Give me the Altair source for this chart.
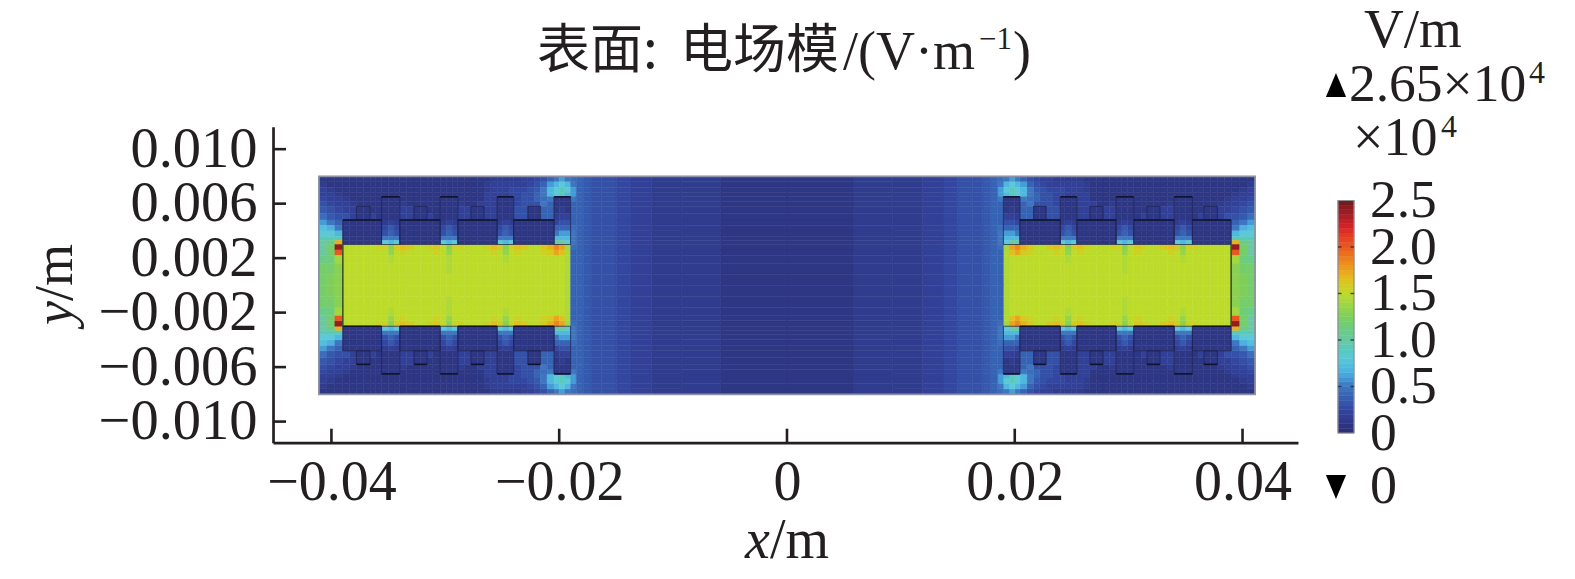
import altair as alt

# Plot frame position on the page (px), used only for text placed around the plot
ORIGIN_X, ORIGIN_Y = 273.0, 126.7
INK = "#231f20"
SERIF = "Liberation Serif"
CJK = "Noto Sans CJK SC"

x_ticks = [-0.04, -0.02, 0, 0.02, 0.04]
y_ticks = [-0.010, -0.006, -0.002, 0.002, 0.006, 0.010]

# Cell edges of the field, mm, left half, outer edge to centre line
x_edges = [-41.1, -40.4, -39.7, -39.0, -38.4, -37.8, -37.2, -36.6, -36.1, -35.6, -35.0, -34.5, -34.0,
           -33.4, -32.75, -32.2, -31.6, -31.1, -30.45, -29.9, -29.4, -28.9, -28.3, -27.75, -27.2,
           -26.6, -26.0, -25.45, -24.95, -24.4, -24.0, -23.35, -22.75, -22.2, -21.65, -21.05, -20.45,
           -20.0, -19.5, -19.0, -18.5, -17.9, -17.2, -16.3, -15.0, -13.7, -11.9, -9.3, -5.8, 0.0]
# Cell edges, mm, upper half, outer edge to centre line
y_edges = [8.0, 7.6, 7.2, 6.8, 6.5, 6.15, 5.8, 5.3, 4.8, 4.4, 4.0, 3.6, 3.3, 3.0, 2.6, 2.2, 1.6, 0.8, 0.0]

# Field modulus, in units of 1000 V/m, one row per y band
field_rows = [
    [1,1,1, 1,1,1,1,1,1, 1,1,1, 1,1,1,1,1,1, 1,1,1, 1,1,1,1,1,1.5, 1.5,1.5,1.5, 1.5,2,2,2.5,3,4, 5,6,5, 4.5,4,3.5,3,3,2.5,2,1.5,1.5,1],
    [1.5,1,1, 1,1,1,1,1,1, 1,1,1, 1,1,1,1,1,1, 1,1,1, 1,1,1,1,1.5,2, 2,2,2, 2,2,2.5,3,4,6, 7,8,7, 5,4,3.5,3,3,2.5,2,1.5,1.5,1],
    [2,1.5,1, 1,1,1,1,1,1, 1,1,1, 1,1,1,1,1,1, 1,1,1, 1,1,1,1,1.5,2, 2,2,2.5, 2.5,2.5,3,3.5,5,7, 8,9,8, 6,4,3.5,3,3,2.5,2,1.5,1.5,1],
    [2,2,1.5, 1,1,1,1,1,1, 1,1,1, 1,1,1,1,1,1, 1,1,1, 1,1,1,1,2,2, 2,2,2.5, 2.5,3,3,4,5,7, 8,9,7, 6,4,3.5,3,3,2.5,2,1.5,1.5,1],
    [2.5,2,2, 1.5,1,1,1,1,1, 1,1,1, 1,1,1,1,1,1, 1,1,1, 1,1,1,1,2,2, 1,1,1, 2.5,3,3,4,4.5,5, 1,1,1, 5,4,3.5,3,3,2.5,2,1.5,1.5,1],
    [3,2.5,2, 2,1.5,1,1,1,1, 1,1,1, 1.5,1,1,1,1,1, 1,1,1, 1.5,1,1,2,2,2, 1,1,1, 2.5,3,3,3,5,4, 1,1,1, 4,4,3.5,3,3,2.5,2,1.5,1.5,1],
    [3.5,3,2.5, 2,2,1,1,1,1, 1,1,1, 2,2,1,1,1,1, 1,1,1, 2,2,1,1,2,2, 1,1,1, 3,3,1,1,4,4, 1,1.5,1, 4,4,3.5,3,3,2.5,2,1.5,1.5,1],
    [4.5,3.5,3, 3,2,1,1,2,1, 1,1,1, 2,2,1,1,2,1, 1,1,1, 2,2,1,1,2,2, 1,1,1, 3,3,1,1,4,4, 1.5,2,2, 4,4,3.5,3,3,2.5,2,1.5,1.5,1],
    [6,5,4, 1,1,1,1,1,1, 1.5,2,1.5, 1,1,1,1,1,1, 1.5,2,1.5, 1,1,1,1,1,1, 1.5,2,1.5, 1,1,1,1,1,1, 2.5,3,3, 4,4,3.5,3,3,2.5,2,1.5,1.5,1],
    [7.5,6.5,5, 1,1,1,1,1,1, 2.5,3.5,2.5, 1,1,1,1,1,1, 2.5,3.5,2.5, 1,1,1,1,1,1, 2.5,3.5,2.5, 1,1,1,1,1,1, 4,4,4, 4.5,4,3.5,3,3,2.5,2,1.5,1.5,1],
    [8,8,7, 1,1,1,1,1,1, 3,4,3, 1,1,1,1,1,1, 3,4,3, 1,1,1,1,1,1, 3,4,3, 1,1,1,1,1,1, 5,6,6, 5,4,3.5,3,3,2.5,2,1.5,1.5,1],
    [9,9,9, 1,1,1,1,1,1, 5,5,5, 1,1,1,1,1,1, 5,5,5, 1,1,1,1,1,1, 5,5,5, 1,1,1,1,1,1, 7,7,7, 5,4,3.5,3,3,2.5,2,1.5,1.5,1],
    [10,11,17, 1,1,1,1,1,1, 8,7,8, 1,1,1,1,1,1, 8,7,8, 1,1,1,1,1,1, 8,7,8, 1,1,1,1,1,1, 10,10,8, 5,4,3.5,3,3,2.5,2,1.5,1.5,1],
    [10,12,24, 15,15,15,15,15,15.5, 15.5,13,16, 16.5,16,15,15,15.5,16, 15,13,15.5, 15.5,15,15,15,15.5,16.5, 16,13,15.5, 16.5,16,15,15,16,17, 18.5,17.5,14, 4.5,4,3.5,3,3,2.5,2,1.5,1.5,1],
    [10,12,20, 15,15,15,15,15,15, 15,13.5,15, 15.5,15,15,15,15,15.5, 15,13.5,15, 15,15,15,15,15,15.5, 15,13.5,15, 15.5,15,15,15,15.5,16, 17.5,16.5,14.5, 4,4,3.5,3,3,2.5,2,1.5,1.5,1],
    [11,11.5,14, 15,15,15,15,15,15, 15,14.5,15, 15,15,15,15,15,15, 15,14.5,15, 15,15,15,15,15,15, 15,14.5,15, 15,15,15,15,15,15, 15,15,14.5, 4,4,3.5,3,3,2.5,2,1.5,1.5,1],
    [12,12,13, 15,15,15,15,15,15, 15,15,15, 15,15,15,15,15,15, 15,14.5,15, 15,15,15,15,15,15, 15,15,15, 15,15,15,15,15,15, 15,15,14.5, 4,4,3.5,3,3,2.5,2,1.5,1.5,1],
    [12,12.5,13, 15,15,15,15,15,15, 15,15,15, 15,15,15,15,15,15, 15,15,15, 15,15,15,15,15,15, 15,15,15, 15,15,15,15,15,15, 15,15,14.5, 4,4,3.5,3,3,2.5,2,1.5,1.5,1],
]

# Colour scale stops, in 10^4 V/m
color_stops = [0, 0.25, 0.5, 0.65, 0.8, 1.0, 1.25, 1.5, 1.65, 1.8, 2.0, 2.2, 2.5]
color_values = ["#2a2d72", "#3346a0", "#3f76c0", "#4fb0e0", "#5cc8d8", "#6cc8a0", "#7fce5a",
                "#bddb2b", "#e0c020", "#ed9420", "#e9581f", "#dc2427", "#6e1a1e"]

# Colour bar levels, 10^4 V/m
bar_levels = [0, 0.05, 0.1, 0.15, 0.2, 0.25, 0.3, 0.35, 0.4, 0.45, 0.5, 0.55, 0.6, 0.65, 0.7, 0.75, 0.8,
              0.85, 0.9, 0.95, 1.0, 1.05, 1.1, 1.15, 1.2, 1.25, 1.3, 1.35, 1.4, 1.45, 1.5, 1.55, 1.6, 1.65,
              1.7, 1.75, 1.8, 1.85, 1.9, 1.95, 2.0, 2.05, 2.1, 2.15, 2.2, 2.25, 2.3, 2.35, 2.4, 2.45, 2.5]
bar_labels = [0, 0.5, 1.0, 1.5, 2.0, 2.5]
bar_marks = [0.5, 1.0, 1.5, 2.0]

# Geometry in mm: left-hand x spans and upper y spans, mirrored for the other three quadrants
tooth_x = [(-35.6, -34.0), (-30.45, -28.9), (-25.45, -24.0), (-20.45, -19.0)]
pad_x = [(-39.0, -35.6), (-34.0, -30.45), (-28.9, -25.45), (-24.0, -20.45)]
stub_x = [(-37.8, -36.6), (-32.75, -31.6), (-27.75, -26.6), (-22.75, -21.65)]
tooth_y = (3.0, 6.5)
pad_y = (3.0, 4.8)
stub_y = (4.8, 5.8)
core_x = (-39.0, -19.0)
core_y = 3.0
field_x = 41.1
field_y = 8.0

# ---- long tables -------------------------------------------------------
cells = []
for r, row in enumerate(field_rows):
    for c, v in enumerate(row):
        for sx in (-1, 1):
            for sy in (-1, 1):
                xa, xb = sorted([sx * -x_edges[c], sx * -x_edges[c + 1]])
                ya, yb = sorted([sy * y_edges[r], sy * y_edges[r + 1]])
                cells.append({"x0": xa / 1000, "x1": xb / 1000, "y0": ya / 1000, "y1": yb / 1000, "v": v / 10})

outlines = []
for spans, ys in ((tooth_x, tooth_y), (pad_x, pad_y), (stub_x, stub_y)):
    for a, b in spans:
        for sx in (1, -1):
            for sy in (1, -1):
                xa, xb = sorted([sx * a, sx * b])
                ya, yb = sorted([sy * ys[0], sy * ys[1]])
                outlines.append({"x0": xa / 1000, "x1": xb / 1000, "y0": ya / 1000, "y1": yb / 1000})

strong = []
for sx in (1, -1):
    for a, b in pad_x:
        xa, xb = sorted([sx * a, sx * b])
        strong.append({"x0": xa / 1000, "x1": xb / 1000, "y": pad_y[1] / 1000})
        strong.append({"x0": xa / 1000, "x1": xb / 1000, "y": -core_y / 1000})
    for a, b in tooth_x:
        xa, xb = sorted([sx * a, sx * b])
        strong.append({"x0": xa / 1000, "x1": xb / 1000, "y": tooth_y[1] / 1000})
        strong.append({"x0": xa / 1000, "x1": xb / 1000, "y": -tooth_y[1] / 1000})
    for a, b in stub_x:
        xa, xb = sorted([sx * a, sx * b])
        strong.append({"x0": xa / 1000, "x1": xb / 1000, "y": -stub_y[1] / 1000})

# ---- scales ------------------------------------------------------------
X_SCALE = alt.Scale(domain=[-0.04513, 0.04487], nice=False, zero=False)
Y_SCALE = alt.Scale(domain=[-0.01155, 0.01165], nice=False, zero=False)
C_SCALE = alt.Scale(domain=color_stops, range=color_values, clamp=True)
BAR_SCALE = alt.Scale(domain=[0, 2.5], range=[306.3, 73.8], nice=False, zero=False)

BAR_LEFT = alt.value(1338 - ORIGIN_X)
BAR_RIGHT = alt.value(1354 - ORIGIN_X)


def X(f):
    return alt.X(f, type="quantitative", scale=X_SCALE, axis=None)


def Y(f):
    return alt.Y(f, type="quantitative", scale=Y_SCALE, axis=None)


field = alt.Chart(alt.Data(values=cells)).mark_rect(strokeWidth=0.5).encode(
    x=alt.X(
        "x0:Q", scale=X_SCALE, title=None,
        axis=alt.Axis(values=x_ticks, grid=False, ticks=False, tickSize=0, domainColor=INK, domainWidth=2.7,
                      labelFont=SERIF, labelFontSize=56, labelColor=INK, labelPadding=13, labelOverlap=False,
                      labelFlush=False, labelBound=False,
                      labelExpr="datum.value == 0 ? '0' : format(datum.value, '.2f')"),
    ),
    x2="x1:Q",
    y=alt.Y(
        "y0:Q", scale=Y_SCALE, title=None,
        axis=alt.Axis(values=y_ticks, grid=False, ticks=False, tickSize=0, domainColor=INK, domainWidth=2.7,
                      labelFont=SERIF, labelFontSize=56.5, labelColor=INK, labelPadding=16, labelOverlap=False,
                      labelFlush=False, labelBound=False, format=".3f"),
    ),
    y2="y1:Q",
    fill=alt.Fill("v:Q", scale=C_SCALE, legend=None),
    stroke=alt.Stroke("v:Q", scale=C_SCALE, legend=None),
)

border = alt.Chart(alt.Data(values=[{"x0": -field_x / 1000, "x1": field_x / 1000,
                                     "y0": -field_y / 1000, "y1": field_y / 1000}])).mark_rect(
    fillOpacity=0, stroke="#8f91a6", strokeWidth=1.8
).encode(x=X("x0:Q"), x2="x1:Q", y=Y("y0:Q"), y2="y1:Q")

shapes = alt.Chart(alt.Data(values=outlines)).mark_rect(
    fillOpacity=0, stroke="#1d2152", strokeWidth=1.0, strokeOpacity=0.75
).encode(x=X("x0:Q"), x2="x1:Q", y=Y("y0:Q"), y2="y1:Q")

lines = alt.Chart(alt.Data(values=strong)).mark_rule(color="#12142e", strokeWidth=1.6).encode(
    x=X("x0:Q"), x2="x1:Q", y=Y("y:Q")
)

core_sides = alt.Chart(alt.Data(values=[
    {"x": core_x[0] / 1000, "y0": -core_y / 1000, "y1": core_y / 1000},
    {"x": -core_x[0] / 1000, "y0": -core_y / 1000, "y1": core_y / 1000},
])).mark_rule(color="#3d5230", strokeWidth=1.6).encode(x=X("x:Q"), y=Y("y0:Q"), y2="y1:Q")

x_tick_marks = alt.Chart(alt.Data(values=[{"t": t} for t in x_ticks])).mark_rule(color=INK, strokeWidth=2.6).encode(
    x=X("t:Q"), y=alt.value(316), y2=alt.value(302)
)
y_tick_marks = alt.Chart(alt.Data(values=[{"t": t} for t in y_ticks])).mark_rule(color=INK, strokeWidth=2.6).encode(
    y=Y("t:Q"), x=alt.value(0), x2=alt.value(13)
)

bar = alt.Chart(alt.Data(values=[{"a": a, "b": b, "v": (a + b) / 2} for a, b in zip(bar_levels, bar_levels[1:])])).mark_rect(
    strokeWidth=0.5
).encode(
    x=BAR_LEFT, x2=BAR_RIGHT,
    y=alt.Y("a:Q", scale=BAR_SCALE, axis=None), y2="b:Q",
    fill=alt.Fill("v:Q", scale=C_SCALE, legend=None),
    stroke=alt.Stroke("v:Q", scale=C_SCALE, legend=None),
)
bar_frame = alt.Chart(alt.Data(values=[{"a": 0, "b": 2.5}])).mark_rect(
    fillOpacity=0, stroke="#8d8d95", strokeWidth=1.2
).encode(x=BAR_LEFT, x2=BAR_RIGHT, y=alt.Y("a:Q", scale=BAR_SCALE, axis=None), y2="b:Q")
bar_tick_l = alt.Chart(alt.Data(values=[{"t": t} for t in bar_marks])).mark_rule(color="#222244", strokeWidth=1.4, opacity=0.8).encode(
    x=BAR_LEFT, x2=alt.value(1341.5 - ORIGIN_X), y=alt.Y("t:Q", scale=BAR_SCALE, axis=None)
)
bar_tick_r = alt.Chart(alt.Data(values=[{"t": t} for t in bar_marks])).mark_rule(color="#222244", strokeWidth=1.4, opacity=0.8).encode(
    x=alt.value(1350.5 - ORIGIN_X), x2=BAR_RIGHT, y=alt.Y("t:Q", scale=BAR_SCALE, axis=None)
)
bar_text = alt.Chart(alt.Data(values=[{"t": t, "s": "0" if t == 0 else f"{t:.1f}"} for t in bar_labels])).mark_text(
    font=SERIF, fontSize=53.5, color=INK, align="left", baseline="alphabetic", dy=17
).encode(x=alt.value(1370 - ORIGIN_X), y=alt.Y("t:Q", scale=BAR_SCALE, axis=None), text="s:N")

# text, left px, baseline px, size, family, style
notes = [
    ("表面:", 537, 68, 53, CJK, "normal"),
    ("电场模", 680, 68, 53, CJK, "normal"),
    ("/(V·m", 843, 69, 54, SERIF, "normal"),
    ("−1", 979, 49, 31, SERIF, "normal"),
    (")", 1013, 69, 54, SERIF, "normal"),
    ("x", 745, 558, 56, SERIF, "italic"),
    ("/m", 770, 558, 56, SERIF, "normal"),
    ("V/m", 1364, 47, 55, SERIF, "normal"),
    ("2.65×10", 1349, 101, 53.5, SERIF, "normal"),
    ("4", 1529, 83, 32, SERIF, "normal"),
    ("×10", 1353, 155, 54, SERIF, "normal"),
    ("4", 1441, 137, 32, SERIF, "normal"),
    ("0", 1370, 503, 54, SERIF, "normal"),
]


def note(text, px, py, size, family, style, angle=0):
    return alt.Chart(alt.Data(values=[{}])).mark_text(
        text=text, font=family, fontSize=size, fontStyle=style, color=INK,
        align="left", baseline="alphabetic", angle=angle
    ).encode(x=alt.value(px - ORIGIN_X), y=alt.value(py - ORIGIN_Y))


note_layers = [note(*n) for n in notes]
note_layers.append(note("y", 72, 325, 54, SERIF, "italic", angle=270))
note_layers.append(note("/m", 72, 301, 54, SERIF, "normal", angle=270))

tri_up = alt.Chart(alt.Data(values=[{}])).mark_point(
    shape="M -0.84 1 L 0.84 1 L 0 -1 Z", filled=True, size=576, color="#000000", opacity=1
).encode(x=alt.value(1336 - ORIGIN_X), y=alt.value(85 - ORIGIN_Y))
tri_down = alt.Chart(alt.Data(values=[{}])).mark_point(
    shape="M -0.84 -1 L 0.84 -1 L 0 1 Z", filled=True, size=576, color="#000000", opacity=1
).encode(x=alt.value(1336 - ORIGIN_X), y=alt.value(487 - ORIGIN_Y))

chart = alt.layer(
    field, border, shapes, lines, core_sides, x_tick_marks, y_tick_marks,
    bar, bar_frame, bar_tick_l, bar_tick_r, bar_text, tri_up, tri_down, *note_layers
).resolve_scale(x="independent", y="independent").properties(
    width=1025, height=316,
    padding={"left": 265, "top": 118.7, "right": 269, "bottom": 128},
    autosize=alt.AutoSizeParams(type="none"),
    background="white",
).configure_view(strokeWidth=0)

chart.save("out.html", embed_options={"renderer": "svg", "actions": False})
